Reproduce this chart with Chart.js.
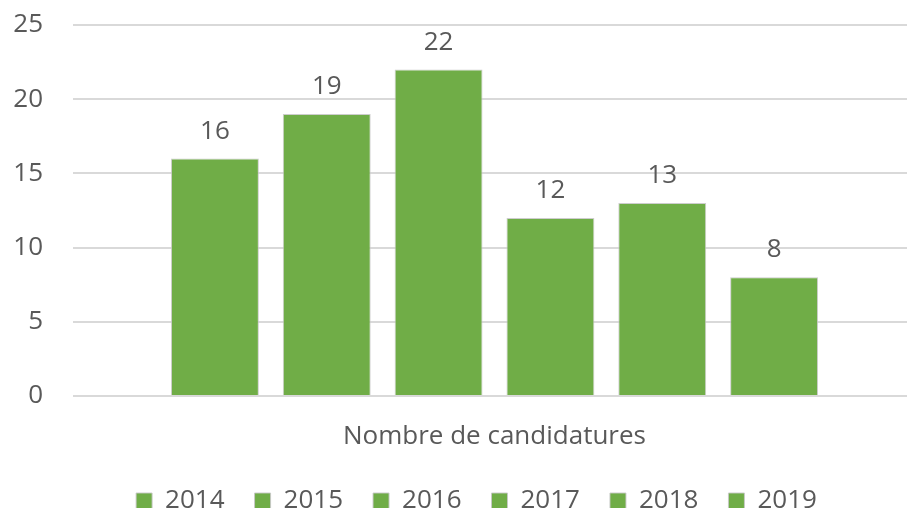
<!DOCTYPE html>
<html lang="fr">
<head>
<meta charset="utf-8">
<title>Nombre de candidatures</title>
<script src="https://cdn.jsdelivr.net/npm/chart.js@4/dist/chart.umd.min.js"></script>
<style>
  html, body { margin: 0; padding: 0; background: #fff; overflow: hidden; }
  /* a bit wider/taller than the window: the plot runs off the right edge like the original */
  #wrap { width: 916px; height: 524px; position: relative; }
</style>
</head>
<body>
<div id="wrap"><canvas id="chart"></canvas></div>
<script>
// data
const categories = ['Nombre de candidatures'];
const years = ['2014', '2015', '2016', '2017', '2018', '2019'];
const values = [16, 19, 22, 12, 13, 8];
const yTicks = [0, 5, 10, 15, 20, 25];

const GREEN = '#70AD47';
const TEXT = '#595959';
const FONT = "'Open Sans', 'DejaVu Sans', sans-serif";

// value labels above bars (no datalabels plugin offline)
const valueLabels = {
  id: 'valueLabels',
  afterDatasetsDraw(chart){
    const ctx = chart.ctx;
    ctx.save();
    ctx.font = `26px ${FONT}`;
    ctx.fillStyle = TEXT;
    ctx.textAlign = 'center';
    ctx.textBaseline = 'alphabetic';
    chart.data.datasets.forEach((ds, i) => {
      const meta = chart.getDatasetMeta(i);
      meta.data.forEach((bar, j) => {
        ctx.fillText(String(ds.data[j]), bar.x, bar.y - 20);
      });
    });
    ctx.restore();
  }
};

// legend sits a little right of the canvas centre in the original
const legendShift = {
  id: 'legendShift',
  afterLayout(chart){
    const lg = chart.legend;
    if(!lg) return;
    lg.left += 12; lg.right += 12;
    lg.adjustHitBoxes();
  }
};

const datasets = years.map((y, i) => ({
  label: y,
  data: [values[i]],
  backgroundColor: GREEN,
  borderColor: 'rgba(200,200,200,0.9)',
  borderWidth: 1,
  barPercentage: 0.786,
  categoryPercentage: 0.796
}));

new Chart(document.getElementById('chart'), {
  type: 'bar',
  data: { labels: categories, datasets },
  plugins: [valueLabels, legendShift],
  options: {
    responsive: true,
    maintainAspectRatio: false,
    animation: false,
    layout: { padding: { left: 13, top: 25, right: 0, bottom: 0 } },
    plugins: {
      legend: {
        position: 'bottom',
        labels: {
          boxWidth: 16, boxHeight: 16, padding: 30,
          color: TEXT,
          font: { family: FONT, size: 26 }
        }
      },
      tooltip: { enabled: false }
    },
    scales: {
      x: {
        grid: { display: false },
        border: { display: false },
        ticks: { color: TEXT, font: { family: FONT, size: 26 }, padding: 17 },
        afterFit(scale){ scale.height = 62; scale.paddingLeft = 0; scale.paddingRight = 0; }
      },
      y: {
        min: yTicks[0],
        max: yTicks[yTicks.length - 1],
        afterBuildTicks(scale){ scale.ticks = yTicks.map(v => ({ value: v })); },
        afterFit(scale){ scale.width = 60; scale.paddingTop = 0; scale.paddingBottom = 0; },
        grid: { color: '#d9d9d9', lineWidth: 2, drawTicks: false },
        border: { display: false },
        ticks: { color: TEXT, font: { family: FONT, size: 26 }, padding: 30 }
      }
    }
  }
});
</script>
</body>
</html>
